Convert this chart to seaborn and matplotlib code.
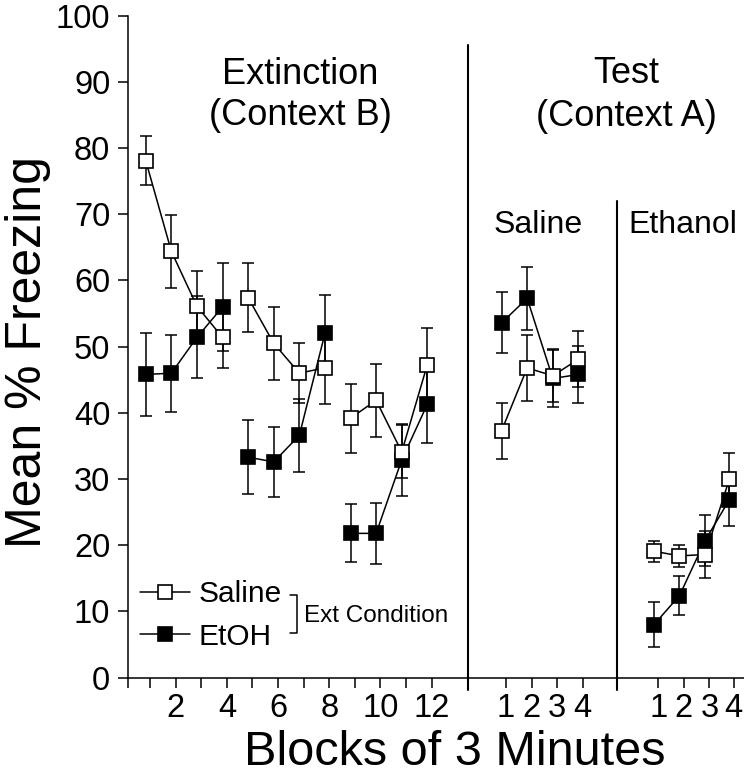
import numpy as np
import pandas as pd
import matplotlib
matplotlib.use("Agg")
import matplotlib.pyplot as plt
import seaborn as sns
from matplotlib.lines import Line2D

# blocks of 3 min: extinction (context B), then test (context A) after saline / ethanol
ext_x = [1, 2, 3, 4, 5, 6, 7, 8, 9, 10, 11, 12]
test_sal_x = [14.9, 15.9, 16.9, 17.9]
test_eth_x = [20.85, 21.85, 22.85, 23.8]

saline_ext = [78.1, 64.4, 56.1, 51.4, 57.4, 50.5, 46.0, 46.8, 39.2, 41.9, 34.1, 47.3]
saline_ext_sem = [3.7, 5.5, 5.3, 4.6, 5.2, 5.5, 4.5, 5.5, 5.2, 5.5, 4.0, 5.5]
etoh_ext = [45.8, 46.0, 51.4, 56.0, 33.3, 32.6, 36.6, 52.0, 21.8, 21.8, 32.9, 41.3]
etoh_ext_sem = [6.3, 5.8, 6.2, 6.6, 5.6, 5.3, 5.5, 5.8, 4.4, 4.6, 5.4, 5.8]

saline_test_sal = [37.3, 46.8, 45.6, 48.1]
saline_test_sal_sem = [4.2, 5.0, 4.0, 4.2]
etoh_test_sal = [53.6, 57.3, 45.2, 45.8]
etoh_test_sal_sem = [4.6, 4.8, 4.3, 4.3]

saline_test_eth = [19.1, 18.4, 18.6, 30.0]
saline_test_eth_sem = [1.6, 1.7, 3.5, 4.0]
etoh_test_eth = [8.0, 12.4, 20.7, 26.9]
etoh_test_eth_sem = [3.4, 3.0, 3.9, 4.0]

ext_segment = ["ext1"] * 4 + ["ext2"] * 4 + ["ext3"] * 4

tick_labels = ["", "2", "", "4", "", "6", "", "8", "", "10", "", "12",
               "1", "2", "3", "4", "1", "2", "3", "4"]

# long table
rows = []
for grp, ext, ext_sem, ts, ts_sem, te, te_sem in [
    ("Saline", saline_ext, saline_ext_sem, saline_test_sal, saline_test_sal_sem, saline_test_eth, saline_test_eth_sem),
    ("EtOH", etoh_ext, etoh_ext_sem, etoh_test_sal, etoh_test_sal_sem, etoh_test_eth, etoh_test_eth_sem),
]:
    for x, m, s, seg in zip(ext_x, ext, ext_sem, ext_segment):
        rows.append((grp, seg, x, m, s))
    for x, m, s in zip(test_sal_x, ts, ts_sem):
        rows.append((grp, "test_sal", x, m, s))
    for x, m, s in zip(test_eth_x, te, te_sem):
        rows.append((grp, "test_eth", x, m, s))
df = pd.DataFrame(rows, columns=["group", "segment", "block", "freezing", "sem"])

sns.set_style("ticks")
plt.rcParams["font.family"] = ["Liberation Sans", "DejaVu Sans"]
plt.rcParams["text.color"] = "black"
plt.rcParams["axes.labelcolor"] = "black"

fig = plt.figure(figsize=(7.44, 7.83), dpi=100)
ax = fig.add_axes([0.1725, 0.1345, 0.8275, 0.8455])

# error bars
for grp in ["EtOH", "Saline"]:
    d = df[df.group == grp]
    ax.errorbar(d["block"], d["freezing"], yerr=d["sem"], fmt="none", ecolor="black",
                elinewidth=1.1, capsize=4.6, capthick=1.1, zorder=2)

# lines + markers
sns.lineplot(data=df[df.group == "EtOH"], x="block", y="freezing", units="segment",
             estimator=None, sort=False, color="black", lw=1.1, marker="s", markersize=10,
             markerfacecolor="black", markeredgecolor="black", markeredgewidth=1.2,
             ax=ax, zorder=3)
sns.lineplot(data=df[df.group == "Saline"], x="block", y="freezing", units="segment",
             estimator=None, sort=False, color="black", lw=1.1, marker="s", markersize=10,
             markerfacecolor="white", markeredgecolor="black", markeredgewidth=1.2,
             ax=ax, zorder=4)

# phase dividers
ax.plot([13.6, 13.6], [-1.9, 95.5], color="black", lw=1.5, clip_on=False, zorder=1)
ax.plot([19.41, 19.41], [-1.9, 72], color="black", lw=1.5, clip_on=False, zorder=1)

ax.set_xlim(0.32, 24.37)
ax.set_ylim(0, 100)
ax.set_yticks(range(0, 101, 10))
tick_pos = [x + 0.17 for x in ext_x + test_sal_x + test_eth_x]
ax.set_xticks(tick_pos)
ax.set_xticklabels(tick_labels)
ax.set_xticks([0.32], minor=True)
ax.tick_params(axis="both", which="both", direction="out", length=7, width=1.1,
               labelsize=23.5, color="black", labelcolor="black")
ax.tick_params(axis="x", pad=4)
ax.tick_params(axis="y", pad=6)
ax.set_xlabel("")
ax.set_ylabel("")
sns.despine(ax=ax)
for sp in ["left", "bottom"]:
    ax.spines[sp].set_linewidth(1.1)
    ax.spines[sp].set_color("black")

# section labels
ax.text(7.03, 89.7, "Extinction", ha="center", va="baseline", fontsize=26)
ax.text(7.03, 83.5, "(Context B)", ha="center", va="baseline", fontsize=26)
ax.text(19.76, 89.8, "Test", ha="center", va="baseline", fontsize=26)
ax.text(19.76, 83.3, "(Context A)", ha="center", va="baseline", fontsize=26)
ax.text(16.33, 67.2, "Saline", ha="center", va="baseline", fontsize=23)
ax.text(21.99, 67.2, "Ethanol", ha="center", va="baseline", fontsize=23)

# legend
handles = [
    Line2D([], [], color="black", lw=1.1, marker="s", markersize=10,
           markerfacecolor="white", markeredgecolor="black", markeredgewidth=1.2),
    Line2D([], [], color="black", lw=1.1, marker="s", markersize=10,
           markerfacecolor="black", markeredgecolor="black", markeredgewidth=1.2),
]
ax.legend(handles, ["Saline", "EtOH"], loc="upper left", bbox_to_anchor=(0.019, 0.147),
          frameon=False, fontsize=21.5, handlelength=1.68, handletextpad=0.27,
          labelspacing=0.48, borderpad=0, borderaxespad=0)
ax.plot([0.2626, 0.274, 0.274, 0.2626], [0.125, 0.125, 0.0675, 0.0675],
        transform=ax.transAxes, color="black", lw=1.1)
ax.text(0.285, 0.093, "Ext Condition", transform=ax.transAxes, ha="left", va="center",
        fontsize=17.5)

fig.text(455 / 744, 0.023, "Blocks of 3 Minutes", ha="center", va="baseline", fontsize=35)
fig.text(0.0376, 0.55, "Mean % Freezing", ha="center", va="center", rotation=90, fontsize=36)

fig.savefig("out.png", dpi=100)
